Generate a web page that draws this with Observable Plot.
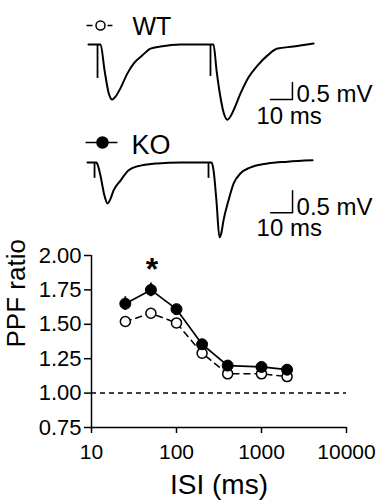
<!DOCTYPE html>
<html>
<head>
<meta charset="utf-8">
<script src="https://cdn.jsdelivr.net/npm/d3@7"></script>
<script src="https://cdn.jsdelivr.net/npm/@observablehq/plot@0.6"></script>
<style>
  html, body { margin: 0; padding: 0; background: #fff; }
  #chart { position: relative; width: 376px; height: 500px; background: #fff; overflow: hidden; }
  #chart > div { position: absolute; left: 0; }
  svg { display: block; }
</style>
</head>
<body>
<div id="chart">
  <div id="wt"></div>
  <div id="ko"></div>
  <div id="ppf"></div>
</div>
<script>
// ---------- Data ----------
// Example traces (time in ms, potential in mV)
const wtTraceT = [0, 5.5, 7.3, 9.1, 10.8, 12.3, 14.5, 17.7, 20.5, 24.5, 28.2, 32.7, 41.8, 56.8, 58.2, 60, 61.4, 63.2, 64.5, 65.9, 69.1, 72.7, 76.8, 81.4, 85.9, 93.2, 102.3];
const wtTraceV = [0, 0, -0.76, -1.41, -1.62, -1.53, -1.29, -0.85, -0.56, -0.32, -0.12, -0.06, 0, 0, -0.76, -1.56, -2.0, -2.21, -2.12, -1.94, -1.44, -0.97, -0.62, -0.32, -0.12, -0.06, 0.03];
const wtArtifactT = [4.1, 55.45];
const wtArtifactV = [-1.0, -0.94];

const koTraceT = [0, 4.1, 4.6, 5.9, 7.7, 9.1, 10.5, 11.8, 15, 18.6, 24.1, 31.8, 42.3, 56.4, 57.3, 58.6, 60, 60.9, 61.8, 64.1, 66.4, 69.5, 74.1, 81.8, 90.9, 102.3];
const koTraceV = [0, 0, -0.05, -0.30, -0.75, -0.93, -0.82, -0.64, -0.41, -0.18, -0.07, -0.02, 0, 0, -0.18, -0.86, -1.70, -1.59, -1.32, -0.86, -0.48, -0.25, -0.11, -0.02, 0.02, 0.05];
const koArtifactT = [3.2, 55.0];
const koArtifactV = [-0.36, -0.36];

// Scale bars
const scaleBarMs = 10;
const scaleBarMv = 0.5;
const scaleBarLabels = ["0.5 mV", "10 ms"];

// Legend labels
const groups = ["WT", "KO"];

// PPF summary
const isi = [25, 50, 100, 200, 400, 1000, 2000];
const wtMean = [1.52, 1.58, 1.51, 1.29, 1.14, 1.14, 1.12];
const wtSem  = [0.02, 0.02, 0.02, 0.03, 0.02, 0.02, 0.02];
const koMean = [1.65, 1.75, 1.61, 1.355, 1.20, 1.19, 1.17];
const koSem  = [0.05, 0.05, 0.03, 0.03, 0.02, 0.02, 0.02];
const sigIsi = [50];
const xTicks = [10, 100, 1000, 10000];
const yTicks = [0.75, 1.00, 1.25, 1.50, 1.75, 2.00];

// ---------- Helpers ----------
const FONT = "'Liberation Sans', Arial, Helvetica, sans-serif";
const rowsOf = (T, V) => T.map((t, i) => ({t, v: V[i]}));

function tracePanel(cfg) {
  const rows = rowsOf(cfg.T, cfg.V);
  const arts = rowsOf(cfg.AT, cfg.AV);
  const bar = cfg.bar;
  const barPath = [
    {t: bar.t - scaleBarMs, v: bar.v},
    {t: bar.t, v: bar.v},
    {t: bar.t, v: bar.v + scaleBarMv}
  ];
  const L = cfg.legend;
  return Plot.plot({
    width: 376, height: cfg.height,
    marginLeft: cfg.marginLeft, marginRight: 376 - cfg.marginLeft - 286, marginTop: 0, marginBottom: 0,
    x: {domain: [0, 130], axis: null},
    y: {domain: cfg.yDomain, axis: null},
    style: {fontFamily: FONT, color: "black", background: "transparent", overflow: "visible"},
    marks: [
      Plot.line(rows, {x: "t", y: "v", curve: "monotone-x", stroke: "black", strokeWidth: 2, strokeLinejoin: "round"}),
      Plot.ruleX(arts, {x: "t", y1: () => 0, y2: "v", stroke: "black", strokeWidth: 1.8}),
      Plot.line(barPath, {x: "t", y: "v", stroke: "black", strokeWidth: 1.5}),
      Plot.text([scaleBarLabels[0]], {x: () => bar.t, y: () => bar.v, text: d => d, textAnchor: "start", lineAnchor: "bottom", dx: 4, dy: 2, fontSize: 24}),
      Plot.text([scaleBarLabels[1]], {x: () => bar.t, y: () => bar.v, text: d => d, textAnchor: "start", lineAnchor: "bottom", dx: -36, dy: cfg.msDy, fontSize: 24}),
      Plot.link([L], {x1: d => d.t0, x2: d => d.t1, y1: d => d.v, y2: d => d.v, stroke: "black", strokeWidth: 1.5, strokeDasharray: L.dash}),
      Plot.dot([L], {x: d => d.tc, y: d => d.v, r: L.r, fill: L.fill, stroke: "black", strokeWidth: 1.5}),
      Plot.text([L], {x: d => d.textT, y: d => d.textV, text: d => d.label, textAnchor: "start", lineAnchor: "bottom", fontSize: L.fontSize})
    ]
  });
}

// ---------- WT trace ----------
const wtSvg = tracePanel({
  T: wtTraceT, V: wtTraceV, AT: wtArtifactT, AV: wtArtifactV,
  height: 128, marginLeft: 88, yDomain: [-2.471, 1.294],
  bar: {t: 92.7, v: -1.62}, msDy: 24,
  legend: {t0: -0.9, t1: 10.9, tc: 5.45, v: 0.56, textT: 20.0, textV: 0.265, label: groups[0], r: 4.5, fill: "white", dash: "6,15", fontSize: 25}
});
const wtDiv = document.getElementById("wt");
wtDiv.style.top = "0px";
wtDiv.appendChild(wtSvg);

// ---------- KO trace ----------
const koSvg = tracePanel({
  T: koTraceT, V: koTraceV, AT: koArtifactT, AV: koArtifactV,
  height: 117, marginLeft: 87, yDomain: [-1.886, 0.773],
  bar: {t: 93.2, v: -1.14}, msDy: 23,
  legend: {t0: -0.9, t1: 13.6, tc: 6.8, v: 0.4545, textT: 20.0, textV: 0.2045, label: groups[1], r: 5.5, fill: "black", dash: null, fontSize: 27}
});
const koDiv = document.getElementById("ko");
koDiv.style.top = "128px";
koDiv.appendChild(koSvg);

// ---------- PPF plot ----------
const wtRows = isi.map((x, i) => ({isi: x, mean: wtMean[i], sem: wtSem[i]}));
const koRows = isi.map((x, i) => ({isi: x, mean: koMean[i], sem: koSem[i]}));
const sigRows = sigIsi.map(x => ({isi: x, y: koMean[isi.indexOf(x)] + 0.15}));

const ppf = Plot.plot({
  width: 376, height: 255,
  marginLeft: 91, marginRight: 30, marginTop: 10, marginBottom: 73,
  x: {type: "log", domain: [10, 10000]},
  y: {domain: [0.75, 2.0]},
  style: {fontFamily: FONT, color: "black", background: "transparent", overflow: "visible"},
  marks: [
    Plot.axisY(yTicks, {tickFormat: d3.format(".2f"), tickSize: 7, tickPadding: 3, fontSize: 22, strokeWidth: 1.5, label: null}),
    Plot.axisX(xTicks, {tickFormat: d3.format("d"), tickSize: 6, tickPadding: 11, fontSize: 21, strokeWidth: 1.5, label: null}),
    Plot.ruleX([10], {stroke: "black", strokeWidth: 1.5}),
    Plot.ruleY([0.75], {stroke: "black", strokeWidth: 1.5}),
    Plot.ruleY([1.0], {stroke: "black", strokeWidth: 1.5, strokeDasharray: "5,4"}),
    Plot.line(wtRows, {x: "isi", y: "mean", stroke: "black", strokeWidth: 1.5, strokeDasharray: "6,5"}),
    Plot.line(koRows, {x: "isi", y: "mean", stroke: "black", strokeWidth: 1.7}),
    Plot.ruleX(wtRows, {x: "isi", y1: d => d.mean - d.sem, y2: d => d.mean + d.sem, stroke: "black", strokeWidth: 1.5}),
    Plot.ruleX(koRows, {x: "isi", y1: d => d.mean - d.sem, y2: d => d.mean + d.sem, stroke: "black", strokeWidth: 1.8}),
    Plot.dot(wtRows, {x: "isi", y: "mean", r: 5, fill: "white", stroke: "black", strokeWidth: 1.5}),
    Plot.dot(koRows, {x: "isi", y: "mean", r: 5.5, fill: "black", stroke: "black", strokeWidth: 1}),
    Plot.text(sigRows, {x: "isi", y: "y", text: () => "*", fontSize: 32, fontWeight: "bold", lineAnchor: "middle", dx: 1}),
    Plot.text(["PPF ratio"], {frameAnchor: "left", dx: -75, dy: 6, rotate: -90, fontSize: 26}),
    Plot.text(["ISI (ms)"], {frameAnchor: "bottom", dy: 47, lineAnchor: "top", fontSize: 28})
  ]
});
const ppfDiv = document.getElementById("ppf");
ppfDiv.style.top = "245px";
ppfDiv.appendChild(ppf);
</script>
</body>
</html>
